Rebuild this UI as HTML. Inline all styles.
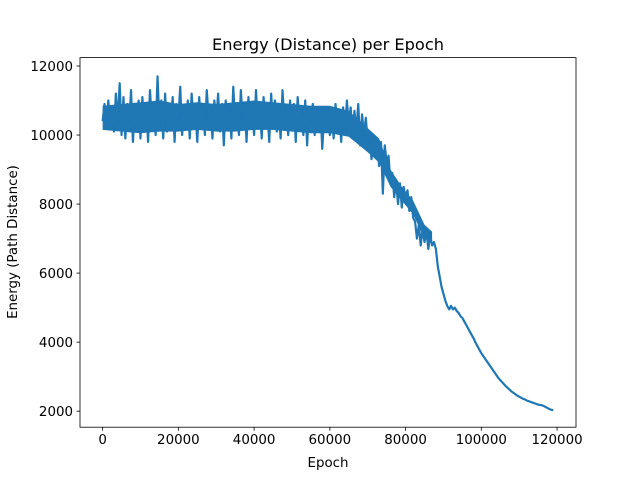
<!DOCTYPE html>
<html><head><meta charset="utf-8"><style>
html,body{margin:0;padding:0;background:#fff;}
svg text{font-family:"DejaVu Sans","Liberation Sans",sans-serif;fill:#000;}
</style></head><body>
<svg id="chart" width="640" height="480" viewBox="0 0 640 480" xmlns="http://www.w3.org/2000/svg">
<rect width="640" height="480" fill="#fff"/>
<text x="328" y="50" font-size="16.2" text-anchor="middle">Energy (Distance) per Epoch</text>
<text x="328" y="467" font-size="13.4" text-anchor="middle">Epoch</text>
<text x="17" y="242" font-size="13.4" text-anchor="middle" transform="rotate(-90 17 242)">Energy (Path Distance)</text>
<g id="ticks"></g>
<polygon id="band" fill="#1f77b4" stroke="none"/>
<polyline id="line" fill="none" stroke="#1f77b4" stroke-width="2.2" stroke-linejoin="round"/>
<rect x="80" y="57.6" width="496" height="369.6" fill="none" stroke="#000" stroke-width="0.8"/>
</svg>
<script>
const stepEpochs = 500;
const energy = [
10400,10900,10200,11000,10300,10800,10100,11200,10400,11500,10000,11100,9900,10900,10300,11300,9800,10800,10200,11000,9900,
11100,10200,10900,9800,11300,10400,10800,10000,11700,10300,11000,9900,11200,10100,10700,10400,11100,9800,10900,10500,
11400,10000,10800,10300,11000,9900,11200,10400,10700,9800,11100,10300,10900,10000,11300,10500,10800,9900,11000,10400,
11200,10100,10900,9700,11000,10200,10800,9900,11400,10300,10700,10000,11300,10400,10900,9800,11100,10300,10800,10000,
11300,10200,10900,9900,11100,10400,10700,9800,11200,10300,11000,10100,10800,9900,11300,10400,10700,10000,11000,10200,
10900,9800,11100,10300,10700,10000,11000,9700,10800,10400,10900,10000,10700,10300,10800,9600,10600,10100,10700,10000,
10700,9900,10900,10200,10600,9800,10800,10100,11000,10300,
10800,9900,10700,10100,10900,9700,10600,10000,10500,9800,
10100,9300,10000,9500,9900,9100,9800,8300,9700,9200,
9400,8600,8900,8200,8700,8000,8600,7900,8500,8100,
8400,7800,8200,7600,7500,7000,7400,6800,7300,6900,
7200,6700,7100,6800,6900,6700,6200,5900,5600,5400,
5200,5050,4950,5050,4950,5000,4900,4850,4750,4700,
4600,4500,4400,4300,4200,4100,3980,3880,3780,3680,
3600,3520,3440,3360,3280,3200,3120,3040,2960,2900,
2840,2780,2720,2670,2620,2570,2530,2490,2450,2420,
2390,2360,2340,2310,2290,2270,2250,2230,2210,2190,
2180,2170,2150,2120,2090,2060,2040,2030
];
const bandEpochs = [0,5000,10000,15000,20000,25000,30000,35000,40000,45000,50000,55000,60000,65000,70000,73000,76000,79000,82000,85000,87000];
const bandLow    = [10150,10100,10050,10100,10100,10150,10100,10100,10150,10150,10100,10050,10050,9950,9500,9200,8500,8100,7700,7000,6900];
const bandHigh   = [10850,10900,10950,11000,10900,10950,10900,10950,11000,10950,10900,10850,10850,10700,10200,9900,9000,8500,8100,7400,7200];
const xTicks = [0,20000,40000,60000,80000,100000,120000];
const yTicks = [2000,4000,6000,8000,10000,12000];

const L=80,R=576,T=57.6,B=427.2;
const xMin=-5975,xMax=125000,yMin=1536,yMax=12243;
const xs=v=>L+(v-xMin)/(xMax-xMin)*(R-L);
const ys=v=>B-(v-yMin)/(yMax-yMin)*(B-T);
const NS="http://www.w3.org/2000/svg";
const g=document.getElementById('ticks');
function mk(tag,attrs){const e=document.createElementNS(NS,tag);for(const k in attrs)e.setAttribute(k,attrs[k]);g.appendChild(e);return e;}
xTicks.forEach(t=>{
  const x=xs(t);
  const ln=mk('line',{x1:x,x2:x,y1:B,y2:B+3.5,stroke:'#000','stroke-width':0.8});
  
  
  const tx=mk('text',{x:x,y:B+17,'font-size':13.4,'text-anchor':'middle'});
  tx.textContent=t;
  
  
});
yTicks.forEach(t=>{
  const y=ys(t);
  const ln=mk('line',{x1:L-3.5,x2:L,y1:y,y2:y,stroke:'#000','stroke-width':0.8});
  
  
  const tx=mk('text',{x:L-7,y:y+5,'font-size':13.4,'text-anchor':'end'});
  tx.textContent=t;
  
  
});
const bandTopPts=bandEpochs.map((e,i)=>xs(e).toFixed(2)+','+ys(bandHigh[i]).toFixed(2));
const bandBotPts=bandEpochs.map((e,i)=>xs(e).toFixed(2)+','+ys(bandLow[i]).toFixed(2)).reverse();
document.getElementById('band').setAttribute('points',bandTopPts.concat(bandBotPts).join(' '));
document.getElementById('line').setAttribute('points',
  energy.map((v,i)=>xs(i*stepEpochs).toFixed(2)+','+ys(v).toFixed(2)).join(' '));
</script>
</body></html>
